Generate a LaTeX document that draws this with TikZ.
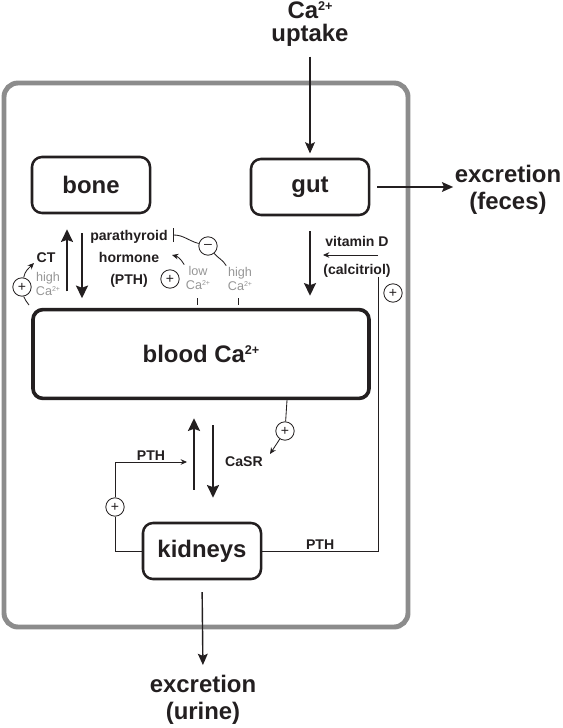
\documentclass[tikz,border=0pt]{standalone}
\usepackage{fontspec}
\setmainfont{Liberation Sans}
\usetikzlibrary{arrows.meta,calc}
\definecolor{K}{RGB}{35,31,32}
\definecolor{F}{RGB}{140,140,140}
\definecolor{L}{RGB}{150,150,150}
\newcommand{\bigsup}{\raisebox{5.6pt}{\fontsize{9}{9}\selectfont 2+}}
\newcommand{\smallsup}{\raisebox{2.8pt}{\fontsize{5}{5}\selectfont 2+}}

\begin{document}
\begin{tikzpicture}[x=0.025cm,y=-0.025cm,
  organ/.style={draw=K, line width=1.8pt, rounded corners=0.25cm, minimum width=2.95cm, minimum height=1.4cm, text=K, font=\bfseries\fontsize{17}{20}\selectfont},
  bigtext/.style={text=K, align=center, inner sep=1pt, font=\bfseries\fontsize{17}{19.5}\selectfont},
  smalltext/.style={text=K, align=center, inner sep=1pt, font=\bfseries\fontsize{10}{15.5}\selectfont},
  catext/.style={text=L, align=center, inner sep=1pt, font=\fontsize{9}{10}\selectfont},
  signbox/.style={circle, draw=K, line width=0.6pt, inner sep=0pt, minimum size=0.46cm, text=K, font=\fontsize{10}{10}\selectfont},
  flowarrow/.style={draw=K, line width=1.4pt, -{Stealth[length=9pt,width=8.5pt,inset=1.5pt]}},
  ioarrow/.style={draw=K, line width=1pt, -{Stealth[length=8pt,width=7pt,inset=1.5pt]}},
  regline/.style={draw=K, line width=0.6pt},
  regarrow/.style={regline, -{Stealth[length=4.5pt,width=4pt]}}]
  \useasboundingbox (0,0) rectangle (562,728);
  \draw[F, line width=3.5pt, rounded corners=0.35cm] (4,83) rectangle (408,627);

  \node[bigtext, font=\bfseries\fontsize{17}{16.5}\selectfont] (uptake) at (310,24) {Ca\bigsup\\uptake};
  \node[organ] (bone) at (91,185) {bone};
  \node[organ] (gut) at (310,187) {gut};
  \node[organ, line width=2.6pt, minimum width=8.4cm, minimum height=2.22cm] (blood) at (201,354) {blood Ca\bigsup};
  \node[organ] (kidneys) at (202,551) {kidneys};
  \node[bigtext] (feces) at (508,190) {excretion\\(feces)};
  \node[bigtext] (urine) at (203,700) {excretion\\(urine)};

  \node[smalltext] (ct) at (46,258) {CT};
  \node[catext] (ctca) at (48,284) {high\\Ca\smallsup};
  \node[smalltext] (pth) at (129,259) {parathyroid\\hormone\\(PTH)};
  \node[catext] (lowca) at (198,278) {low\\Ca\smallsup};
  \node[catext] (highca) at (240,279) {high\\Ca\smallsup};
  \node[smalltext, font=\bfseries\fontsize{10}{20}\selectfont] (vitd) at (357,257) {vitamin D\\(calcitriol)};
  \node[smalltext] (casr) at (244,462) {CaSR};

  \node[signbox] (ctplus) at (22,287) {+};
  \node[signbox] (minus) at (208,246) {–};
  \node[signbox] (lowplus) at (170,279) {+};
  \node[signbox] (vitplus) at (393,293) {+};
  \node[signbox] (casrplus) at (285,431) {+};
  \node[signbox] (kplus) at (115,507) {+};

  \coordinate (ctfoot) at (29,305);
  \coordinate (cttip) at (34,263);
  \coordinate (bar) at (173,235);
  \coordinate (hormtip) at (172,255);
  \coordinate (lowtick) at (197,298);
  \coordinate (lowfoot) at (197,305);
  \coordinate (hightick) at (238,298);
  \coordinate (highfoot) at (238,305);
  \coordinate (vitdfoot) at (378,277);
  \coordinate (vittail) at (378,255);
  \coordinate (vittip) at (323,255);
  \coordinate (casrtop) at (287,400);
  \coordinate (casrtip) at (270,454);
  \coordinate (pthtip) at (187,462);

  \draw[ioarrow, shorten <=6pt, shorten >=3pt] (uptake) -- (gut);
  \draw[ioarrow, shorten <=5pt] (gut.east) -- (gut.east -| feces.west);
  \draw[ioarrow, shorten <=8.5pt, shorten >=6pt] (kidneys.south) -- (urine.north);

  \draw[flowarrow] ($(bone.south)+(-24,77)$) -- ($(bone.south)+(-24,15)$);
  \draw[flowarrow] ($(bone.south)+(-9,19)$) -- ($(bone.south)+(-9,84)$);
  \draw[flowarrow] ($(gut.south)+(0,15)$) -- ($(blood.north -| gut.south)+(0,-12)$);
  \draw[flowarrow] ($(kidneys.north)+(-8,-32)$) -- ($(blood.south -| kidneys.north)+(-8,18)$);
  \draw[flowarrow] ($(blood.south -| kidneys.north)+(11,25)$) -- ($(kidneys.north)+(11,-24)$);

  \draw[regline] (ctfoot) to[out=115,in=-80] (ctplus);
  \draw[regarrow] (ctplus) to[out=80,in=225] (cttip);
  \draw[regline] (highca.north west) to[out=120,in=-50] (minus);
  \draw[regline, -{Bar[width=10pt]}] (minus) to[out=165,in=0] (bar);
  \draw[regarrow] (lowca.north west) to[out=120,in=-15] (hormtip);
  \draw[regline] (lowtick) -- (lowfoot);
  \draw[regline] (hightick) -- (highfoot);

  \draw[regline] (kidneys.east) -- node[above, smalltext] {PTH} (kidneys.east -| vitdfoot) -- (vitdfoot);
  \draw[regarrow] (vittail) -- (vittip);
  \draw[regline] (casrtop) -- (casrplus);
  \draw[regarrow] (casrplus) -- (casrtip);
  \draw[regline] (kidneys.west) -| (kplus);
  \draw[regarrow] (kplus) |- node[pos=0.75, above, smalltext] {PTH} (pthtip);
\end{tikzpicture}
\end{document}
